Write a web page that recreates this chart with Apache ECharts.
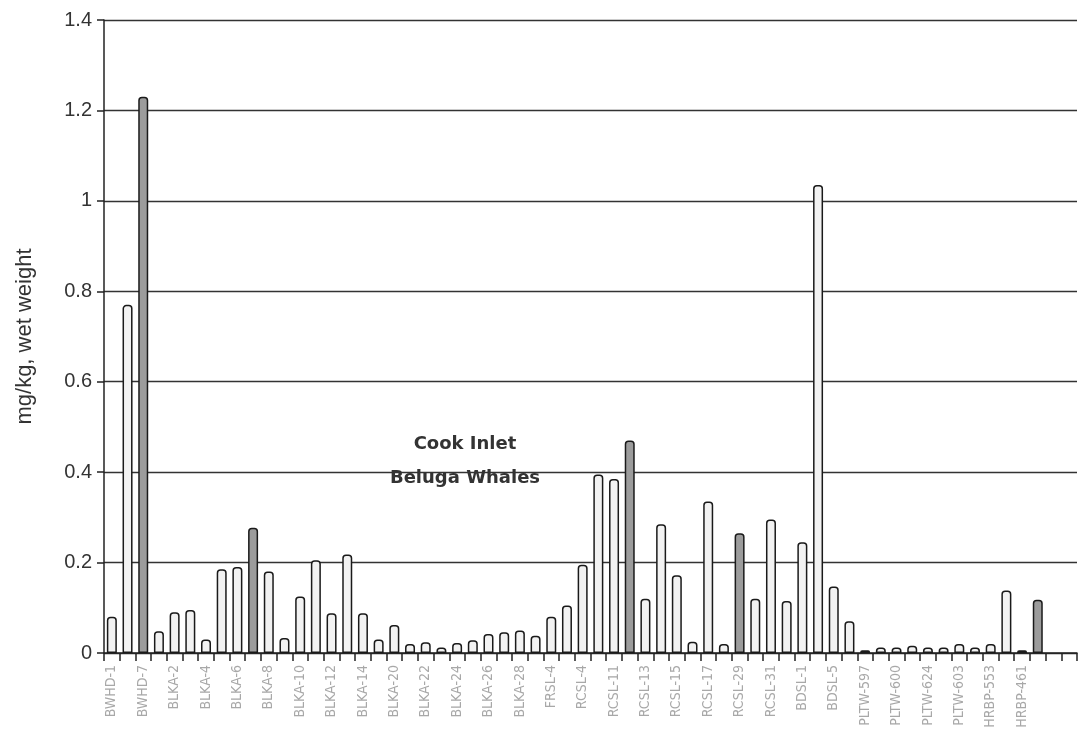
<!DOCTYPE html>
<html>
<head>
<meta charset="utf-8">
<script src="https://cdn.jsdelivr.net/npm/echarts@6/dist/echarts.min.js"></script>
<style>html,body{margin:0;padding:0;background:#fff}#c{width:1080px;height:738px}</style>
</head>
<body>
<div id="c"></div>
<script>
// Sample IDs (only every other one is labeled in the original; unlabeled ones left blank)
var categories = [
  'BWHD-1','', 'BWHD-7','', 'BLKA-2','', 'BLKA-4','', 'BLKA-6','', 'BLKA-8','',
  'BLKA-10','', 'BLKA-12','', 'BLKA-14','', 'BLKA-20','', 'BLKA-22','', 'BLKA-24','',
  'BLKA-26','', 'BLKA-28','', 'FRSL-4','', 'RCSL-4','', 'RCSL-11','', 'RCSL-13','',
  'RCSL-15','', 'RCSL-17','', 'RCSL-29','', 'RCSL-31','', 'BDSL-1','', 'BDSL-5','',
  'PLTW-597','', 'PLTW-600','', 'PLTW-624','', 'PLTW-603','', 'HRBP-553','', 'HRBP-461','',
  '', ''
];
// mg/kg wet weight, light (open) bars
var lightValues = [
  0.08, 0.77, null, 0.048, 0.09, 0.095, 0.03, 0.185, 0.19, null, 0.18, 0.033,
  0.125, 0.205, 0.088, 0.218, 0.088, 0.03, 0.062, 0.02, 0.024, 0.012, 0.022, 0.028,
  0.042, 0.046, 0.05, 0.038, 0.08, 0.105, 0.195, 0.395, 0.385, null, 0.12, 0.285,
  0.172, 0.025, 0.335, 0.02, null, 0.12, 0.295, 0.115, 0.245, 1.035, 0.147, 0.07,
  0.006, 0.012, 0.012, 0.016, 0.012, 0.012, 0.02, 0.012, 0.02, 0.138, 0.006, null,
  null, null
];
// mg/kg wet weight, shaded (dark) bars
var darkValues = [
  null, null, 1.23, null, null, null, null, null, null, 0.277, null, null,
  null, null, null, null, null, null, null, null, null, null, null, null,
  null, null, null, null, null, null, null, null, null, 0.47, null, null,
  null, null, null, null, 0.265, null, null, null, null, null, null, null,
  null, null, null, null, null, null, null, null, null, null, null, 0.118,
  null, null
];
var yTicks = [0, 0.2, 0.4, 0.6, 0.8, 1, 1.2, 1.4];
var yAxisTitle = 'mg/kg, wet weight';
var annotation = ['Cook Inlet', 'Beluga Whales'];

var chart = echarts.init(document.getElementById('c'), null, {renderer: 'canvas'});
chart.setOption({
  animation: false,
  backgroundColor: '#fff',
  grid: {left: 104, right: 3, top: 20, bottom: 85, containLabel: false},
  xAxis: {
    type: 'category',
    data: categories,
    boundaryGap: true,
    axisLine: {show: true, lineStyle: {color: '#222', width: 1.5}},
    axisTick: {show: true, interval: 0, length: 8, lineStyle: {color: '#222', width: 1.5}},
    axisLabel: {
      interval: 0, rotate: 90, margin: 12,
      fontFamily: '"DejaVu Sans Condensed", "Liberation Sans Narrow", sans-serif',
      fontSize: 14, color: '#a8a8a8'
    },
    splitLine: {show: false}
  },
  yAxis: {
    type: 'value',
    min: yTicks[0], max: yTicks[yTicks.length - 1], interval: 0.2,
    name: yAxisTitle,
    nameLocation: 'middle', nameGap: 68, nameRotate: 90,
    nameTextStyle: {fontFamily: '"Liberation Sans", Arial, sans-serif', fontSize: 22, color: '#333'},
    axisLine: {show: true, lineStyle: {color: '#222', width: 1.5}},
    axisTick: {show: true, length: 7, lineStyle: {color: '#222', width: 1.5}},
    axisLabel: {
      fontFamily: '"Liberation Sans", Arial, sans-serif', fontSize: 20, color: '#333', margin: 12,
      formatter: function (v) { return String(Math.round(v * 10) / 10); }
    },
    splitLine: {show: true, lineStyle: {color: '#333', width: 1.3}}
  },
  series: [
    {
      type: 'bar', name: 'light', data: lightValues, barWidth: 10, barGap: '-100%',
      itemStyle: {color: '#f2f2f2', borderColor: '#1a1a1a', borderWidth: 1.5, borderRadius: [3, 3, 0, 0]}
    },
    {
      type: 'bar', name: 'dark', data: darkValues, barWidth: 10, barGap: '-100%',
      itemStyle: {color: '#9c9c9c', borderColor: '#1a1a1a', borderWidth: 1.5, borderRadius: [3, 3, 0, 0]}
    }
  ],
  graphic: [{
    type: 'text', x: 465, y: 427,
    style: {
      text: annotation.join('\n'), align: 'center', textAlign: 'center', lineHeight: 34,
      font: 'bold 18px "DejaVu Sans", "Liberation Sans", sans-serif', fill: '#333'
    }
  }]
});
</script>
</body>
</html>
